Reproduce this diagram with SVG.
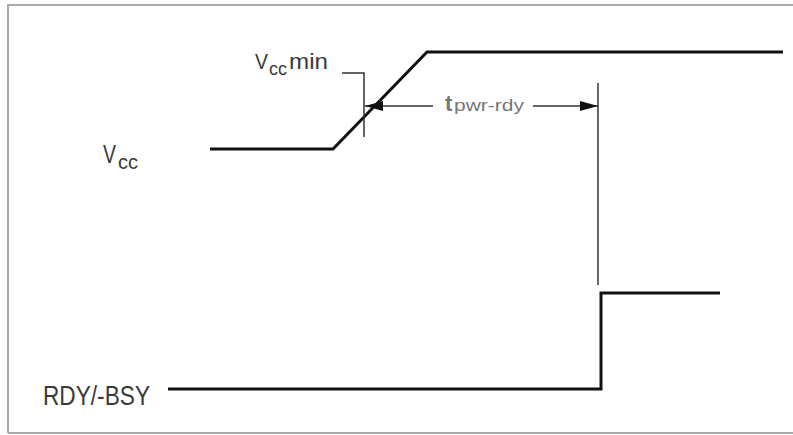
<svg xmlns="http://www.w3.org/2000/svg" width="793" height="435" viewBox="0 0 793 435">
<defs>
<marker id="ah" viewBox="0 0 18 10" refX="18" refY="5" markerWidth="18" markerHeight="10" markerUnits="userSpaceOnUse" orient="auto">
<path d="M0,0 L18,5 L0,10 Z" fill="#111"/>
</marker>
</defs>
<style>
.lbl{font-family:"Liberation Sans",Arial,sans-serif;fill:#3a3a3a}
.sig{fill:none;stroke:#111;stroke-width:3;stroke-linejoin:miter}
.thin{fill:none;stroke:#333;stroke-width:1.5}
.tl{font-family:"Liberation Sans",Arial,sans-serif;fill:#777}
</style>
<rect x="0" y="0" width="793" height="435" fill="#fff"/>
<path d="M8,433 L8,5 L800,5 M8,433 L800,433" fill="none" stroke="#aaa" stroke-width="2"/>
<g id="labels">
<g id="vcc-label">
<text class="lbl" x="103" y="163" font-size="25" textLength="13" lengthAdjust="spacingAndGlyphs">V</text>
<text class="lbl" x="118" y="169" font-size="20" textLength="20" lengthAdjust="spacingAndGlyphs">cc</text>
</g>
<g id="vccmin-label">
<text class="lbl" x="255" y="69" font-size="22" textLength="13" lengthAdjust="spacingAndGlyphs">V</text>
<text class="lbl" x="269" y="75" font-size="18" textLength="18" lengthAdjust="spacingAndGlyphs">cc</text>
<text class="lbl" x="289" y="69" font-size="22" textLength="39" lengthAdjust="spacingAndGlyphs">min</text>
</g>
<g id="rdy-label"><text class="lbl" x="43" y="405" font-size="27" textLength="107" lengthAdjust="spacingAndGlyphs">RDY/-BSY</text></g>
<g id="tpwr-label">
<text class="tl" x="445" y="111" font-size="22" font-weight="bold">t</text>
<text class="tl" x="454" y="111" font-size="17" textLength="70" lengthAdjust="spacingAndGlyphs">pwr-rdy</text>
</g>
</g>
<g id="signals">
<polyline id="vcc" class="sig" points="210,149 333,149 427,52 783,52"/>
<polyline id="rdy" class="sig" points="168,389 601,389 601,293 720,293"/>
</g>
<g id="connectors">
<polyline class="thin" points="342,73 364,73 364,137"/>
<line class="thin" x1="433" y1="106" x2="365" y2="106" marker-end="url(#ah)"/>
<line class="thin" x1="533" y1="106" x2="598" y2="106" marker-end="url(#ah)"/>
<line class="thin" x1="598" y1="83" x2="598" y2="285"/>
</g>
</svg>
